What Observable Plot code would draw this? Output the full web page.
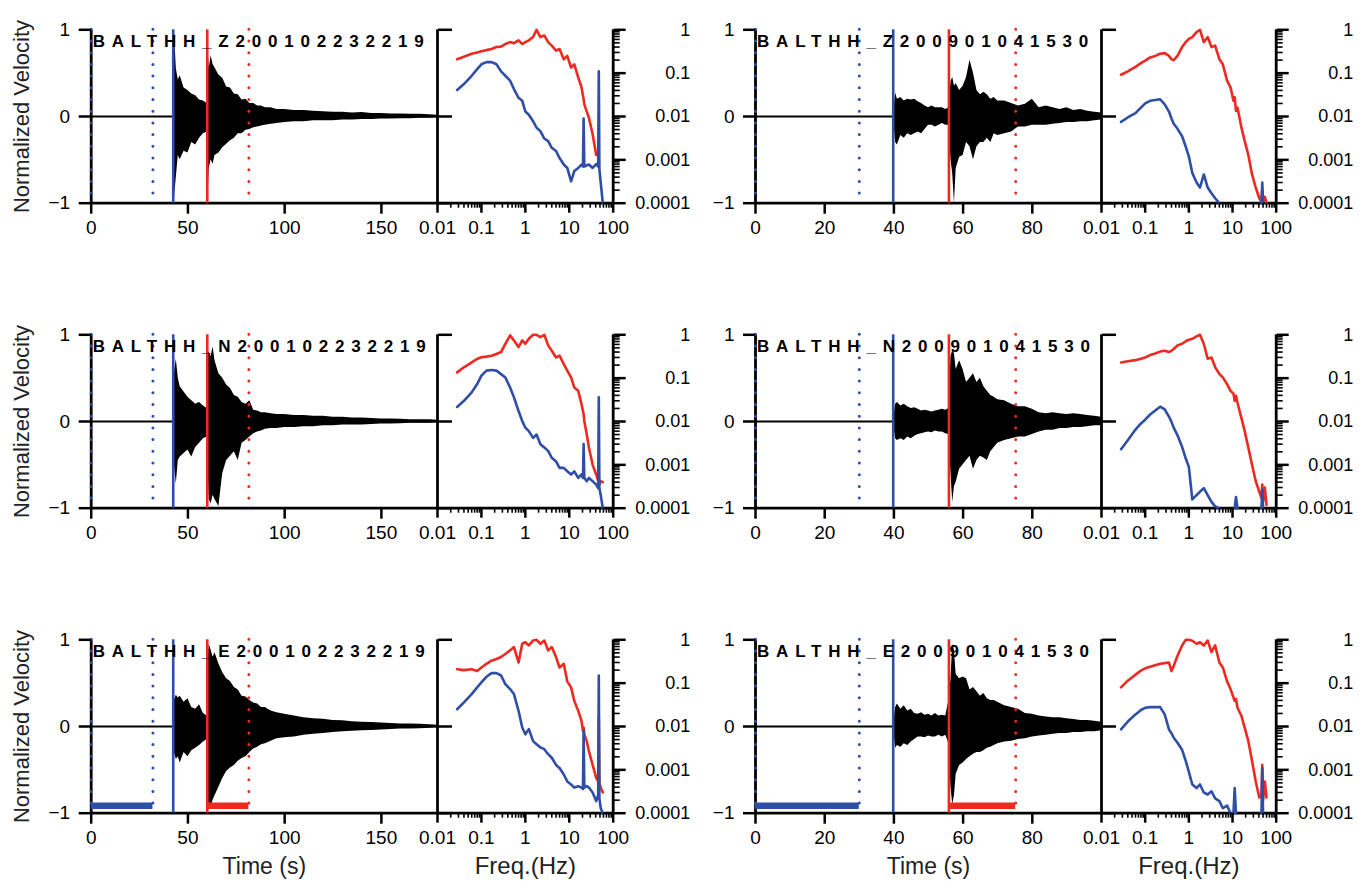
<!DOCTYPE html>
<html><head><meta charset="utf-8">
<script src="https://cdn.jsdelivr.net/npm/d3@7"></script>
<script src="https://cdn.jsdelivr.net/npm/@observablehq/plot@0.6"></script>
<style>
body{margin:0;background:#fff;}
#chart{position:relative;width:1367px;height:890px;overflow:hidden;background:#fff;font-family:"Liberation Sans",Arial,sans-serif;}
</style></head><body><div id="chart"></div>
<script>
// ---------- DATA ----------
// station / component titles
const titlesA = ["BALTHH_Z200102232219", "BALTHH_N200102232219", "BALTHH_E200102232219"];
const titlesB = ["BALTHH_Z200901041530", "BALTHH_N200901041530", "BALTHH_E200901041530"];
// picks: noise start, noise end, P, S, signal end (s)
const picksA = [0, 31.9, 42.4, 60, 81.5];
const picksB = [0, 30, 39.8, 55.9, 75.2];
const windowBarLevel = -0.915;

// event A (2001) waveform envelopes
const tA = [0, 42.4, 43, 44, 45, 46, 48, 50, 52, 54, 56, 58, 59.9, 60.5, 61, 62, 63, 64, 66, 68, 70, 72, 74, 76, 78, 80, 82, 84, 86, 88, 90, 93, 96, 100, 105, 110, 115, 120, 125, 130, 135, 140, 145, 150, 155, 160, 165, 170, 175, 179];
const zA_hi = [0, 0, 1.0, 0.55, 0.42, 0.47, 0.33, 0.3, 0.26, 0.24, 0.19, 0.18, 0.15, 0.76, 0.55, 0.7, 0.6, 0.56, 0.48, 0.44, 0.34, 0.33, 0.26, 0.25, 0.19, 0.2, 0.15, 0.15, 0.12, 0.12, 0.1, 0.1, 0.08, 0.08, 0.07, 0.07, 0.06, 0.055, 0.05, 0.05, 0.04, 0.045, 0.035, 0.035, 0.03, 0.03, 0.025, 0.025, 0.02, 0.015];
const zA_lo = [0, 0, -0.95, -0.7, -0.45, -0.5, -0.4, -0.42, -0.3, -0.33, -0.25, -0.2, -0.18, -0.9, -0.6, -0.5, -0.55, -0.45, -0.42, -0.36, -0.32, -0.28, -0.25, -0.2, -0.2, -0.16, -0.15, -0.13, -0.12, -0.11, -0.1, -0.09, -0.08, -0.07, -0.06, -0.06, -0.05, -0.05, -0.05, -0.04, -0.04, -0.035, -0.035, -0.03, -0.03, -0.025, -0.025, -0.02, -0.02, -0.015];
const nA_hi = [0, 0, 0.55, 0.72, 0.5, 0.4, 0.34, 0.28, 0.24, 0.2, 0.22, 0.18, 0.15, 0.8, 0.8, 0.75, 0.86, 0.7, 0.55, 0.5, 0.42, 0.38, 0.3, 0.28, 0.22, 0.2, 0.24, 0.13, 0.12, 0.1, 0.1, 0.09, 0.08, 0.08, 0.07, 0.07, 0.06, 0.06, 0.05, 0.05, 0.04, 0.04, 0.035, 0.03, 0.03, 0.025, 0.02, 0.02, 0.02, 0.015];
const nA_lo = [0, 0, -0.5, -0.72, -0.45, -0.41, -0.37, -0.33, -0.41, -0.3, -0.25, -0.2, -0.18, -0.6, -0.9, -0.95, -0.85, -0.9, -0.98, -0.6, -0.45, -0.4, -0.35, -0.45, -0.25, -0.22, -0.18, -0.14, -0.12, -0.11, -0.09, -0.08, -0.08, -0.07, -0.07, -0.06, -0.06, -0.05, -0.05, -0.04, -0.04, -0.04, -0.035, -0.03, -0.03, -0.025, -0.02, -0.02, -0.02, -0.015];
const eA_hi = [0, 0, 0.3, 0.36, 0.33, 0.35, 0.28, 0.32, 0.22, 0.2, 0.25, 0.15, 0.12, 0.8, 0.95, 0.88, 0.8, 0.85, 0.72, 0.62, 0.55, 0.52, 0.45, 0.42, 0.35, 0.34, 0.3, 0.27, 0.26, 0.22, 0.22, 0.18, 0.16, 0.14, 0.12, 0.1, 0.09, 0.085, 0.07, 0.065, 0.055, 0.05, 0.045, 0.04, 0.035, 0.03, 0.03, 0.025, 0.02, 0.015];
const eA_lo = [0, 0, -0.3, -0.38, -0.35, -0.42, -0.3, -0.35, -0.28, -0.25, -0.22, -0.18, -0.15, -0.85, -0.9, -0.93, -0.85, -0.8, -0.7, -0.6, -0.52, -0.48, -0.45, -0.4, -0.37, -0.35, -0.3, -0.26, -0.24, -0.21, -0.2, -0.17, -0.14, -0.13, -0.12, -0.1, -0.09, -0.08, -0.07, -0.06, -0.055, -0.05, -0.045, -0.04, -0.035, -0.03, -0.03, -0.025, -0.02, -0.015];

// event B (2009) waveform envelopes
const tB = [0, 39.8, 40.5, 41, 42, 43, 44, 45, 46, 47, 48, 49, 50, 51, 52, 53, 54, 55, 55.9, 56.5, 57, 57.5, 58, 59, 60, 61, 62, 63, 64, 65, 66, 67, 68, 69, 70, 72, 74, 76, 78, 80, 82, 84, 86, 88, 90, 92, 94, 96, 98, 100];
const zB_hi = [0, 0, 0.27, 0.2, 0.22, 0.18, 0.2, 0.19, 0.2, 0.17, 0.15, 0.12, 0.1, 0.12, 0.1, 0.1, 0.1, 0.08, 0.1, 0.4, 0.45, 0.35, 0.38, 0.3, 0.35, 0.45, 0.65, 0.5, 0.3, 0.25, 0.28, 0.25, 0.2, 0.22, 0.18, 0.18, 0.15, 0.12, 0.14, 0.2, 0.1, 0.12, 0.1, 0.08, 0.1, 0.07, 0.08, 0.06, 0.05, 0.04];
const zB_lo = [0, 0, -0.3, -0.33, -0.22, -0.25, -0.2, -0.22, -0.2, -0.18, -0.2, -0.15, -0.1, -0.1, -0.12, -0.1, -0.08, -0.1, -0.1, -0.5, -0.66, -1.0, -0.6, -0.47, -0.45, -0.3, -0.35, -0.5, -0.35, -0.3, -0.3, -0.25, -0.3, -0.2, -0.22, -0.2, -0.18, -0.12, -0.12, -0.1, -0.1, -0.1, -0.09, -0.08, -0.07, -0.07, -0.06, -0.06, -0.05, -0.04];
const nB_hi = [0, 0, 0.2, 0.22, 0.18, 0.2, 0.17, 0.15, 0.16, 0.14, 0.12, 0.13, 0.12, 0.11, 0.12, 0.13, 0.14, 0.13, 0.15, 0.75, 0.82, 0.78, 0.6, 0.7, 0.6, 0.45, 0.5, 0.55, 0.45, 0.5, 0.4, 0.35, 0.3, 0.28, 0.25, 0.24, 0.2, 0.17, 0.17, 0.14, 0.1, 0.09, 0.1, 0.09, 0.08, 0.09, 0.08, 0.07, 0.06, 0.05];
const nB_lo = [0, 0, -0.2, -0.22, -0.2, -0.22, -0.18, -0.2, -0.17, -0.15, -0.14, -0.13, -0.12, -0.13, -0.11, -0.12, -0.12, -0.14, -0.15, -0.6, -0.93, -0.75, -0.7, -0.55, -0.5, -0.45, -0.4, -0.55, -0.45, -0.4, -0.42, -0.45, -0.35, -0.3, -0.25, -0.22, -0.2, -0.18, -0.18, -0.15, -0.12, -0.1, -0.1, -0.08, -0.08, -0.07, -0.07, -0.06, -0.05, -0.05];
const eB_hi = [0, 0, 0.22, 0.26, 0.2, 0.24, 0.18, 0.2, 0.15, 0.14, 0.16, 0.13, 0.14, 0.12, 0.15, 0.12, 0.13, 0.12, 0.3, 0.55, 0.95, 0.88, 0.6, 0.55, 0.57, 0.55, 0.42, 0.45, 0.4, 0.35, 0.38, 0.32, 0.3, 0.3, 0.28, 0.24, 0.22, 0.2, 0.15, 0.14, 0.12, 0.11, 0.1, 0.1, 0.09, 0.08, 0.07, 0.07, 0.06, 0.05];
const eB_lo = [0, 0, -0.25, -0.22, -0.24, -0.2, -0.22, -0.18, -0.15, -0.12, -0.12, -0.13, -0.11, -0.12, -0.12, -0.1, -0.12, -0.1, -0.2, -0.7, -0.9, -0.8, -0.55, -0.45, -0.42, -0.38, -0.35, -0.32, -0.3, -0.3, -0.28, -0.25, -0.24, -0.22, -0.2, -0.18, -0.17, -0.15, -0.14, -0.12, -0.11, -0.1, -0.09, -0.08, -0.08, -0.07, -0.07, -0.06, -0.06, -0.05];

// event A spectra (Hz, normalized amplitude); red = signal window, blue = noise window
const fA = [0.028, 0.04, 0.06, 0.08, 0.1, 0.13, 0.17, 0.22, 0.28, 0.35, 0.45, 0.55, 0.7, 0.85, 1.0, 1.2, 1.5, 1.8, 2.2, 2.7, 3.3, 4, 5, 6, 7.5, 9, 11, 13, 16, 19, 20.5, 21.2, 22, 25, 28, 34, 41, 45.5, 47, 48.5, 52, 58];
const zA_red = [0.21, 0.24, 0.28, 0.30, 0.32, 0.34, 0.36, 0.40, 0.41, 0.47, 0.52, 0.49, 0.57, 0.47, 0.52, 0.57, 0.68, 1.0, 0.68, 0.74, 0.52, 0.43, 0.33, 0.36, 0.21, 0.25, 0.135, 0.16, 0.08, 0.047, 0.03, 0.025, 0.019, 0.013, 0.0094, 0.0039, 0.0013, null, null, null, null, null];
const zA_blue = [0.041, 0.056, 0.087, 0.124, 0.16, 0.18, 0.18, 0.16, 0.11, 0.087, 0.067, 0.043, 0.027, 0.023, 0.013, 0.011, 0.0078, 0.0055, 0.0046, 0.0031, 0.0027, 0.0019, 0.0016, 0.0011, 0.00078, 0.00065, 0.00032, 0.00055, 0.00065, 0.00078, 0.0007, 0.009, 0.0007, 0.00075, 0.00078, 0.00065, 0.0008, 0.0007, 0.11, 0.0006, 0.0003, 0.0001];
const nA_red = [0.136, 0.178, 0.232, 0.277, 0.303, 0.314, 0.33, 0.36, 0.40, 0.62, 0.97, 0.74, 0.52, 0.74, 0.62, 0.81, 1.0, 1.0, 0.88, 1.0, 0.57, 0.43, 0.30, 0.33, 0.21, 0.15, 0.104, 0.061, 0.051, 0.025, 0.0175, 0.0147, 0.0103, 0.005, 0.0025, 0.001, 0.0006, 0.00042, 0.0005, 0.00035, 0.00042, 0.0004];
const nA_blue = [0.0217, 0.030, 0.047, 0.073, 0.114, 0.149, 0.154, 0.149, 0.124, 0.104, 0.061, 0.036, 0.0175, 0.0103, 0.0072, 0.006, 0.0042, 0.005, 0.003, 0.0025, 0.0021, 0.00145, 0.0012, 0.00085, 0.00085, 0.00071, 0.0006, 0.00071, 0.0005, 0.0006, 0.0005, 0.003, 0.0005, 0.00042, 0.0005, 0.00042, 0.00035, 0.00029, 0.036, 0.00029, 0.0002, 0.0001];
const eA_red = [0.21, 0.2, 0.21, 0.19, 0.23, 0.28, 0.33, 0.36, 0.4, 0.47, 0.57, 0.68, 0.3, 0.81, 0.88, 0.74, 0.96, 1.0, 0.81, 0.96, 0.57, 0.68, 0.4, 0.23, 0.28, 0.11, 0.08, 0.039, 0.023, 0.0135, 0.008, 0.0095, 0.0066, 0.0046, 0.0027, 0.0013, 0.00065, 0.00055, 0.016, 0.0005, 0.00039, 0.0003];
const eA_blue = [0.025, 0.036, 0.056, 0.08, 0.104, 0.14, 0.17, 0.17, 0.15, 0.095, 0.073, 0.056, 0.023, 0.0095, 0.0066, 0.0087, 0.0046, 0.0039, 0.0033, 0.003, 0.0023, 0.0019, 0.0013, 0.0011, 0.00078, 0.00054, 0.00046, 0.00039, 0.00042, 0.00039, 0.00036, 0.008, 0.00039, 0.00042, 0.00039, 0.0003, 0.00019, 0.00026, 0.15, 0.00022, 0.00013, 0.0001];

// event B spectra
const fB = [0.028, 0.04, 0.06, 0.08, 0.1, 0.13, 0.17, 0.22, 0.28, 0.35, 0.4, 0.45, 0.55, 0.7, 0.85, 1.0, 1.2, 1.5, 1.8, 2.2, 2.7, 3.3, 4, 5, 6, 7.5, 9, 10.5, 11.2, 12, 13, 16, 19, 23, 28, 34, 41, 46, 48, 50, 55, 60];
const zB_red = [0.092, 0.11, 0.14, 0.17, 0.195, 0.23, 0.25, 0.28, 0.29, 0.25, 0.21, 0.20, 0.25, 0.40, 0.52, 0.62, 0.68, 0.88, 1.0, 0.52, 0.68, 0.40, 0.43, 0.21, 0.16, 0.067, 0.047, 0.023, 0.028, 0.0135, 0.016, 0.0056, 0.0027, 0.0013, 0.00046, 0.00023, 0.00013, 0.00011, 0.0002, 0.00011, 0.00014, 0.0001];
const zB_blue = [0.0075, 0.0095, 0.012, 0.016, 0.02, 0.023, 0.024, 0.025, 0.019, 0.013, 0.009, 0.0068, 0.0052, 0.0035, 0.002, 0.0012, 0.0005, 0.0003, 0.00023, 0.00046, 0.00023, 0.00017, 0.00013, 0.0001, null, null, null, null, null, null, null, null, null, null, null, null, null, 0.0001, 0.0003, 0.0001, null, null];
const nB_red = [0.23, 0.245, 0.26, 0.28, 0.30, 0.34, 0.37, 0.41, 0.43, 0.40, 0.43, 0.47, 0.57, 0.62, 0.71, 0.77, 0.81, 0.92, 1.0, 0.62, 0.28, 0.30, 0.18, 0.125, 0.104, 0.073, 0.051, 0.044, 0.03, 0.039, 0.027, 0.012, 0.006, 0.0025, 0.001, 0.00042, 0.00024, 0.00017, 0.00035, 0.00014, 0.0003, 0.00012];
const nB_blue = [0.0023, 0.0037, 0.0065, 0.009, 0.011, 0.0145, 0.018, 0.022, 0.019, 0.013, 0.0098, 0.0072, 0.0048, 0.0026, 0.0014, 0.0009, 0.00016, 0.0002, 0.00024, 0.00029, 0.0002, 0.00014, 0.00011, 0.0001, null, null, null, null, 0.0001, 0.00018, 0.0001, null, null, null, null, null, null, 0.0001, 0.00027, 0.0001, null, null];
const eB_red = [0.08, 0.114, 0.157, 0.194, 0.22, 0.24, 0.26, 0.28, 0.29, 0.30, 0.19, 0.25, 0.43, 0.74, 1.0, 1.0, 0.95, 0.81, 0.88, 0.74, 0.96, 0.52, 0.74, 0.30, 0.23, 0.11, 0.073, 0.047, 0.039, 0.043, 0.027, 0.0175, 0.0094, 0.0046, 0.0016, 0.00054, 0.00023, 0.00026, 0.0013, 0.0002, 0.00054, 0.00023];
const eB_blue = [0.0086, 0.013, 0.019, 0.024, 0.027, 0.028, 0.028, 0.028, 0.019, 0.0086, 0.007, 0.0055, 0.0042, 0.0029, 0.0016, 0.0009, 0.00046, 0.00038, 0.00046, 0.0003, 0.00027, 0.00032, 0.00022, 0.00019, 0.00013, 0.00015, 0.0001, 0.0001, 0.00038, 0.0001, null, null, null, null, null, null, null, 0.0001, 0.0011, 0.0001, null, null];

// axis ticks
const timeTicksA = [0, 50, 100, 150];
const timeTicksB = [0, 20, 40, 60, 80];
const velTicks = [-1, 0, 1];
const freqTicks = [0.01, 0.1, 1, 10, 100];
const ampTicks = [0.0001, 0.001, 0.01, 0.1, 1];

// ---------- LAYOUT ----------
const BLUE = "#2f4ea6", RED = "#ec2a22";
const FONT = "'Liberation Sans', Arial, Helvetica, sans-serif";
const rowTops = [0, 305, 610];
const pairs = [
  {waveLeft: 0, waveWidth: 460, waveML: 90.7, waveMR: 23, tMax: 179, tTicks: timeTicksA,
   specLeft: 420, specWidth: 300, specML: 17, specMR: 107.3, t: tA, picks: picksA, f: fA,
   titles: titlesA, hi: [zA_hi, nA_hi, eA_hi], lo: [zA_lo, nA_lo, eA_lo],
   red: [zA_red, nA_red, eA_red], blue: [zA_blue, nA_blue, eA_blue], yLabel: true},
  {waveLeft: 665, waveWidth: 460, waveML: 90, waveMR: 24, tMax: 100, tTicks: timeTicksB,
   specLeft: 1082, specWidth: 285, specML: 19, specMR: 91.3, t: tB, picks: picksB, f: fB,
   titles: titlesB, hi: [zB_hi, nB_hi, eB_hi], lo: [zB_lo, nB_lo, eB_lo],
   red: [zB_red, nB_red, eB_red], blue: [zB_blue, nB_blue, eB_blue], yLabel: false}
];

const minorX = [];
for (let e = -2; e < 2; e++) for (let m = 2; m < 10; m++) minorX.push(m * Math.pow(10, e));
const minorY = [];
for (let e = -4; e < 0; e++) for (let m = 2; m < 10; m++) minorY.push(m * Math.pow(10, e));

const velFormat = d => d < 0 ? "\u2212" + Math.abs(d) : String(d);

const chart = document.getElementById("chart");
const svgStyle = {background: "transparent", overflow: "visible", fontFamily: FONT, color: "black"};
function place(el, left, top) {
  el.style.position = "absolute";
  el.style.left = left + "px";
  el.style.top = top + "px";
  chart.appendChild(el);
}

pairs.forEach(P => {
  [0, 1, 2].forEach(r => {
    const last = r === 2;
    const H = last ? 280 : 250;
    const MB = last ? 77.3 : 47.3;
    const MT = 29.3;
    const top = rowTops[r];
    const [n0, n1, pP, sS, s1] = P.picks;
    const wave = P.t.map((t, i) => ({t, hi: P.hi[r][i], lo: P.lo[r][i]}));

    const wmarks = [
      Plot.ruleY([0], {stroke: "black", strokeWidth: 2.2}),
      Plot.areaY(wave, {x: "t", y1: "lo", y2: "hi", fill: "black", curve: "linear"}),
      Plot.ruleX([0], {stroke: "black", strokeWidth: 2.8}),
      Plot.ruleX([P.tMax], {stroke: "black", strokeWidth: 2.8}),
      Plot.ruleY([-1], {stroke: "black", strokeWidth: 2.8}),
      Plot.ruleX([n0, n1], {stroke: BLUE, strokeWidth: 3, strokeDasharray: "0 11.7", strokeLinecap: "round"}),
      Plot.ruleX([pP], {stroke: BLUE, strokeWidth: 2.6}),
      Plot.ruleX([sS], {stroke: RED, strokeWidth: 2.6}),
      Plot.ruleX([s1], {stroke: RED, strokeWidth: 3, strokeDasharray: "0 11.7", strokeLinecap: "round"}),
      Plot.axisY({ticks: velTicks, anchor: "left", tickSize: 12, tickPadding: 9, tickFormat: velFormat, strokeWidth: 2.5, fontSize: 19, label: null}),
      Plot.axisY({ticks: velTicks, anchor: "right", tickSize: 14, tickFormat: () => "", strokeWidth: 2.5, label: null}),
      Plot.axisX({ticks: P.tTicks, anchor: "bottom", tickSize: 11, tickPadding: 6, strokeWidth: 2.5, fontSize: 19, label: null}),
      Plot.text([P.titles[r]], {frameAnchor: "top-left", textAnchor: "start", dx: 1.5, dy: 5.3, lineAnchor: "top", fontWeight: "bold", fontSize: 17, fill: "black"})
    ];
    if (last) {
      wmarks.push(
        Plot.ruleY([{y: windowBarLevel, x1: n0, x2: n1}], {y: "y", x1: "x1", x2: "x2", stroke: BLUE, strokeWidth: 6.5}),
        Plot.ruleY([{y: windowBarLevel, x1: sS, x2: s1}], {y: "y", x1: "x1", x2: "x2", stroke: RED, strokeWidth: 6.5}),
        Plot.text(["Time (s)"], {frameAnchor: "bottom", dy: 61, fontSize: 23, fill: "#222"})
      );
    }
    if (P.yLabel) {
      wmarks.push(Plot.text(["Normalized Velocity"], {frameAnchor: "left", textAnchor: "middle", dx: -69, rotate: -90, fontSize: 22, fill: "#222"}));
    }
    const w = Plot.plot({
      width: P.waveWidth, height: H,
      marginLeft: P.waveML, marginRight: P.waveMR, marginTop: MT, marginBottom: MB,
      style: svgStyle,
      x: {domain: [0, P.tMax]},
      y: {domain: [-1, 1]},
      marks: wmarks
    });
    w.querySelectorAll("text").forEach(t => {
      if (t.textContent.startsWith("BALTHH")) {
        t.setAttribute("letter-spacing", "6.8");
        t.style.letterSpacing = "6.8px";
      }
    });
    place(w, P.waveLeft, top);

    const rd = P.f.map((f, i) => ({f, a: P.red[r][i]}));
    const bd = P.f.map((f, i) => ({f, a: P.blue[r][i]}));
    const smarks = [
      Plot.ruleY([0.0001], {stroke: "black", strokeWidth: 2.8}),
      Plot.ruleX([100], {stroke: "black", strokeWidth: 2.8}),
      Plot.lineY(rd, {x: "f", y: "a", stroke: RED, strokeWidth: 2.6, strokeLinejoin: "round"}),
      Plot.lineY(bd, {x: "f", y: "a", stroke: BLUE, strokeWidth: 2.6, strokeLinejoin: "round"}),
      Plot.axisX({ticks: freqTicks, anchor: "bottom", tickSize: 10, tickPadding: 7, tickFormat: d => String(d), strokeWidth: 2.5, fontSize: 19, label: null}),
      Plot.axisX({ticks: minorX, anchor: "bottom", tickSize: 5, tickFormat: () => "", strokeWidth: 1.6, label: null}),
      Plot.axisY({ticks: ampTicks, anchor: "right", tickSize: 12, tickPadding: 65, textAnchor: "end", tickFormat: d => String(d), strokeWidth: 2.5, fontSize: 18, label: null}),
      Plot.axisY({ticks: minorY, anchor: "right", tickSize: 6, tickFormat: () => "", strokeWidth: 1.6, label: null})
    ];
    if (last) smarks.push(Plot.text(["Freq.(Hz)"], {frameAnchor: "bottom", dy: 61, fontSize: 24, fill: "#222"}));
    const s = Plot.plot({
      width: P.specWidth, height: H,
      marginLeft: P.specML, marginRight: P.specMR, marginTop: MT, marginBottom: MB,
      style: svgStyle,
      x: {type: "log", domain: [0.01, 100]},
      y: {type: "log", domain: [0.0001, 1]},
      marks: smarks
    });
    place(s, P.specLeft, top);
  });
});
</script>
</body></html>
